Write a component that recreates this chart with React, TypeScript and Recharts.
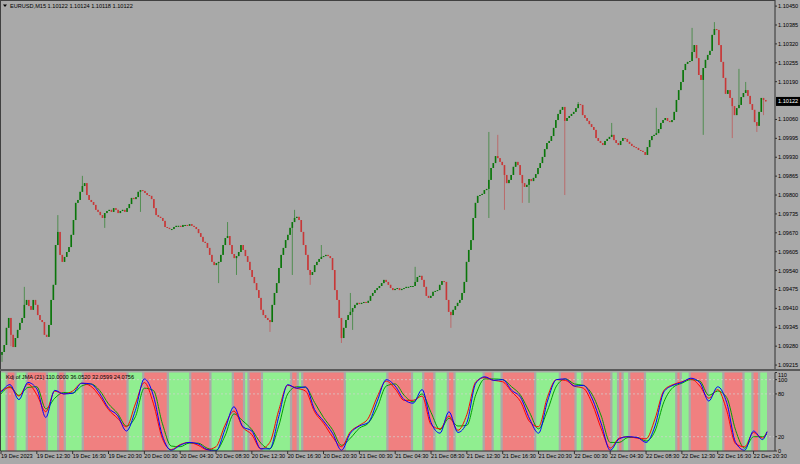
import React from "react";
import {
  Bar,
  ComposedChart,
  Line,
  ReferenceArea,
  ReferenceLine,
  XAxis,
  YAxis,
} from "recharts";

const FONT = "'Liberation Sans', Arial, sans-serif";
const BG = "#a9a9a9";
const BULL = "#0a760a";
const BEAR = "#c83838";

// EURUSD M15 closes, one per bar, from 19 Dec 08:30
const closes = [
  1.0926, 1.09284, 1.09343, 1.09377, 1.09319, 1.09277, 1.09308, 1.09336, 1.0936, 1.09377,
  1.09422, 1.09439, 1.09418, 1.09405, 1.09439, 1.09422, 1.09387, 1.0937, 1.09363, 1.09319,
  1.09312, 1.09353, 1.09439, 1.09491, 1.09628, 1.09673, 1.09594, 1.0957, 1.09587, 1.09604,
  1.09621, 1.09663, 1.09714, 1.09773, 1.09783, 1.09811, 1.09831, 1.09841, 1.098, 1.09783,
  1.09776, 1.09766, 1.09749, 1.09742, 1.09731, 1.09721, 1.09738, 1.09745, 1.09749, 1.09742,
  1.09755, 1.09749, 1.09738, 1.09745, 1.09749, 1.09742, 1.09755, 1.09769, 1.0979, 1.09786,
  1.09793, 1.09811, 1.09817, 1.09814, 1.09807, 1.098, 1.09797, 1.09786, 1.09755, 1.09731,
  1.09725, 1.09721, 1.09711, 1.0969, 1.09687, 1.09683, 1.09683, 1.0969, 1.09694, 1.09694,
  1.0969, 1.09697, 1.09697, 1.09694, 1.097, 1.09694, 1.0969, 1.09683, 1.09669, 1.09656,
  1.09639, 1.09635, 1.09618, 1.09594, 1.0957, 1.09559, 1.09566, 1.0957, 1.09594, 1.09628,
  1.09652, 1.09659, 1.09628, 1.09597, 1.09583, 1.0959, 1.09604, 1.09628, 1.09611, 1.0959,
  1.0957, 1.09542, 1.09518, 1.09497, 1.09473, 1.09446, 1.09405, 1.09387, 1.09377, 1.0937,
  1.09363, 1.09422, 1.09463, 1.09497, 1.09549, 1.09594, 1.09618, 1.09645, 1.09663, 1.09687,
  1.09707, 1.09721, 1.09725, 1.09714, 1.09673, 1.09628, 1.09594, 1.09542, 1.09525, 1.09535,
  1.09559, 1.0957, 1.0958, 1.09587, 1.0959, 1.09594, 1.0959, 1.09583, 1.09542, 1.09473,
  1.09439, 1.09377, 1.09308, 1.09343, 1.0937, 1.09387, 1.09398, 1.09411, 1.09422, 1.09429,
  1.09425, 1.09429, 1.09432, 1.09429, 1.09436, 1.09453, 1.09463, 1.09473, 1.0948, 1.09487,
  1.09497, 1.09508, 1.09501, 1.09491, 1.0948, 1.09473, 1.09477, 1.0948, 1.09473, 1.09477,
  1.0948, 1.09484, 1.09484, 1.09487, 1.09487, 1.09501, 1.09518, 1.09522, 1.09508, 1.09484,
  1.09453, 1.09446, 1.09453, 1.09467, 1.0947, 1.09473, 1.09491, 1.09504, 1.09501, 1.09439,
  1.09398, 1.09387, 1.09405, 1.09418, 1.09429, 1.09439, 1.09463, 1.09501, 1.0957, 1.09611,
  1.09645, 1.09721, 1.09773, 1.09797, 1.098, 1.09804, 1.09817, 1.09821, 1.09852, 1.09893,
  1.0991, 1.09934, 1.09927, 1.09914, 1.09903, 1.09869, 1.09841, 1.09852, 1.09869, 1.09897,
  1.09914, 1.09903, 1.09869, 1.09841, 1.09828, 1.09835, 1.09855, 1.09848, 1.09859, 1.09872,
  1.09893, 1.0991, 1.09931, 1.09958, 1.09979, 1.09986, 1.10003, 1.10031, 1.10058, 1.10079,
  1.10093, 1.10103, 1.10055, 1.10065, 1.10072, 1.10079, 1.10086, 1.10099, 1.10113, 1.1011,
  1.10075, 1.10065, 1.10055, 1.10044, 1.10034, 1.10024, 1.09996, 1.09986, 1.09979, 1.09972,
  1.09986, 1.09993, 1.1, 1.10007, 1.09989, 1.09979, 1.09972, 1.09986, 1.09996, 1.09993,
  1.09983, 1.09976, 1.09969, 1.09965, 1.09962, 1.09955, 1.09952, 1.09948, 1.09938, 1.09965,
  1.09989, 1.10003, 1.10007, 1.10013, 1.10027, 1.10048, 1.10058, 1.10065, 1.10055, 1.10051,
  1.10058, 1.10086, 1.10127, 1.10161, 1.10189, 1.1023, 1.10251, 1.10258, 1.10261, 1.10292,
  1.10316, 1.10271, 1.10213, 1.10196, 1.10237, 1.10265, 1.10282, 1.10296, 1.10351, 1.10371,
  1.10368, 1.10316, 1.10258, 1.10203, 1.10148, 1.10161, 1.10134, 1.10106, 1.10075, 1.10099,
  1.1011, 1.10137, 1.10151, 1.10161, 1.10141, 1.10113, 1.10093, 1.10051, 1.10038, 1.10086,
  1.10134, 1.10127, 1.10122,
];
const firstOpen = 1.0925;

// bars whose wicks reach well past the body: [bar, price]
const wickHighs: [number, number][] = [
  [10, 1.09484], [25, 1.09731], [36, 1.09866], [101, 1.09707], [131, 1.09749],
  [143, 1.09628], [156, 1.09463], [185, 1.09553], [218, 1.10017], [222, 1.10007],
  [258, 1.1012], [273, 1.10048], [293, 1.101], [309, 1.10375], [319, 1.10395],
  [330, 1.10234], [333, 1.10189],
];
const wickLows: [number, number][] = [
  [0, 1.09226], [4, 1.0928], [46, 1.09687], [62, 1.09742], [97, 1.09497],
  [105, 1.09525], [120, 1.09329], [130, 1.09525], [138, 1.09491], [152, 1.09291],
  [157, 1.09336], [201, 1.09343], [218, 1.09721], [225, 1.09749], [233, 1.09773],
  [236, 1.09773], [252, 1.098], [314, 1.10007], [327, 1.09996], [338, 1.10017],
  [341, 1.10075],
];

const priceTicks = [
  1.1045, 1.10385, 1.1032, 1.10255, 1.1019, 1.1006, 1.09995, 1.0993, 1.09865, 1.098,
  1.09735, 1.0967, 1.09605, 1.0954, 1.09475, 1.0941, 1.09345, 1.0928, 1.09215,
];
const kdjTicks = [0, 20, 80, 100, 110];

const timeLabels = [
  "19 Dec 2023", "19 Dec 12:30", "19 Dec 16:30", "19 Dec 20:30", "20 Dec 00:30",
  "20 Dec 04:30", "20 Dec 08:30", "20 Dec 12:30", "20 Dec 16:30", "20 Dec 20:30",
  "21 Dec 00:30", "21 Dec 04:30", "21 Dec 08:30", "21 Dec 12:30", "21 Dec 16:30",
  "21 Dec 20:30", "22 Dec 00:30", "22 Dec 04:30", "22 Dec 08:30", "22 Dec 12:30",
  "22 Dec 16:30", "22 Dec 20:30",
];
const BARS_PER_LABEL = 16;

// Kdj of JMA lines, read every 4th bar (last one at the final bar)
const KDJ_STEP = 4;
const kLine = [
  82, 93, 72, 96, 87, 47, 85, 80, 81, 95, 94, 81, 60, 50, 28, 57, 101, 78, 22, 1,
  8, 12, 10, 2, 0, 30, 62, 34, 28, 3, 3, 48, 93, 88, 90, 58, 42, 25, 1, 25,
  35, 40, 70, 100, 91, 72, 67, 86, 40, 25, 55, 26, 40, 95, 104, 99, 100, 85, 75, 45,
  25, 70, 100, 101, 91, 92, 73, 38, 1, 17, 20, 19, 12, 35, 83, 92, 96, 102, 96, 70,
  90, 68, 12, 1, 28, 16, 27,
];
const dLine = [
  84, 89, 77, 94, 79, 55, 84, 80, 84, 95, 91, 77, 58, 46, 34, 66, 96, 67, 18, 2,
  9, 12, 8, 2, 6, 36, 56, 33, 23, 3, 12, 57, 92, 88, 84, 55, 39, 20, 6, 27,
  36, 46, 76, 98, 87, 71, 71, 77, 37, 31, 49, 29, 51, 97, 103, 99, 97, 83, 69, 41,
  34, 76, 100, 99, 91, 88, 66, 31, 4, 18, 20, 18, 17, 45, 85, 93, 97, 101, 91, 74,
  86, 57, 10, 6, 26, 18, 27,
];
const jLine = [
  80, 90, 78, 89, 90, 59, 74, 82, 81, 91, 94, 85, 66, 53, 35, 48, 88, 85, 39, 7,
  6, 11, 11, 4, 1, 21, 52, 42, 30, 11, 3, 35, 80, 90, 89, 68, 47, 30, 8, 18,
  32, 39, 61, 91, 94, 78, 69, 80, 54, 30, 46, 35, 36, 79, 101, 101, 100, 90, 78, 54,
  31, 57, 91, 101, 94, 92, 79, 49, 12, 12, 19, 19, 14, 28, 69, 89, 95, 100, 98, 78,
  84, 75, 29, 4, 20, 20, 24,
];

// background colour runs of the indicator: [g = rising, r = falling, bars]
const bandRuns: [string, number][] = [
  ["g", 3], ["r", 4], ["g", 5], ["r", 9], ["g", 5], ["r", 3], ["g", 8], ["r", 20],
  ["g", 7], ["r", 11], ["g", 10], ["r", 9], ["g", 10], ["r", 5], ["g", 2], ["r", 6],
  ["g", 13], ["r", 3], ["g", 2], ["r", 19], ["g", 19], ["r", 11], ["g", 5], ["r", 5],
  ["g", 6], ["r", 3], ["g", 13], ["r", 4], ["g", 4], ["r", 15], ["g", 11], ["r", 7],
  ["g", 3], ["r", 13], ["g", 3], ["r", 2], ["g", 3], ["r", 7], ["g", 14], ["r", 2],
  ["g", 4], ["r", 8], ["g", 7], ["r", 9], ["g", 4], ["r", 3], ["g", 4],
];

const rows = closes.map((close, i) => {
  const open = i === 0 ? firstOpen : closes[i - 1];
  const hi = wickHighs.find(([j]) => j === i);
  const lo = wickLows.find(([j]) => j === i);
  const high = Math.max(open, close, hi ? hi[1] : 0);
  const low = Math.min(open, close, lo ? lo[1] : Infinity);
  const s =
    i % KDJ_STEP === 0 ? i / KDJ_STEP : i === closes.length - 1 ? kLine.length - 1 : -1;
  return {
    i,
    open,
    close,
    range: [low, high],
    k: s >= 0 ? kLine[s] : null,
    d: s >= 0 ? dLine[s] : null,
    j: s >= 0 ? jLine[s] : null,
  };
});

const bands = bandRuns.map(([c, n], idx) => {
  const start = bandRuns.slice(0, idx).reduce((a, r) => a + r[1], 0);
  return { start, end: start + n - 1, fill: c === "g" ? "#90ee90" : "#f08080" };
});

const timeTicks = timeLabels.map((_, n) => n * BARS_PER_LABEL);
const lastClose = closes[closes.length - 1];

const Candle = (props: any) => {
  const { x, y, width, height, payload } = props;
  const [low, high] = payload.range;
  const top = Math.min(y, y + height);
  const h = Math.abs(height);
  const at = (p: number) => (high === low ? top : top + ((high - p) / (high - low)) * h);
  const cx = x + width / 2;
  const color = payload.close >= payload.open ? BULL : BEAR;
  const bTop = at(Math.max(payload.open, payload.close));
  const bBot = at(Math.min(payload.open, payload.close));
  const bw = 1.6;
  return (
    <g>
      <line x1={cx} x2={cx} y1={top} y2={top + Math.max(h, 1)} stroke={color} strokeOpacity={0.55} strokeWidth={1} />
      <rect x={cx - bw / 2} y={bTop} width={bw} height={Math.max(bBot - bTop, 1)} fill={color} />
    </g>
  );
};

const PriceLabel = (props: any) => {
  const { x, y, width } = props.viewBox;
  return (
    <g>
      <rect x={x + width + 1} y={y - 4.5} width={24} height={9} fill="#000" />
      <text x={x + width + 3} y={y + 2} fontSize={5.6} fontFamily={FONT} fill="#fff">
        {lastClose.toFixed(5)}
      </text>
    </g>
  );
};

const TimeTick = ({ x, y, payload }: any) => (
  <text x={x} y={y + 3} fontSize={5.6} fontFamily={FONT} fill="#000" textAnchor="start">
    {timeLabels[payload.value / BARS_PER_LABEL]}
  </text>
);

// the top level label is pushed down inside the panel, as the terminal does
const KdjTick = ({ x, y, payload }: any) => (
  <text x={x} y={Math.max(y, 3.6)} dy="0.355em" fontSize={5.6} fontFamily={FONT} fill="#000" textAnchor="start">
    {payload.value}
  </text>
);

const axisTick = { fontSize: 5.6, fill: "#000", fontFamily: FONT };

const MainChart = () => (
  <ComposedChart width={800} height={371} data={rows} margin={{ top: 0, right: 0, bottom: 1, left: 1 }} barCategoryGap={0} barGap={0}>
    <XAxis dataKey="i" hide padding={{ left: 0, right: 8 }} />
    <YAxis
      orientation="right"
      width={25}
      domain={[1.09198, 1.10471]}
      allowDataOverflow
      ticks={priceTicks}
      interval={0}
      tickFormatter={(v: number) => v.toFixed(5)}
      tick={axisTick}
      tickSize={2}
      tickMargin={1}
      axisLine={{ stroke: "#303030" }}
      tickLine={{ stroke: "#303030" }}
    />
    <Bar dataKey="range" shape={(p: any) => <Candle {...p} />} isAnimationActive={false} />
    <ReferenceLine y={lastClose} stroke="none" ifOverflow="visible" label={(p: any) => <PriceLabel {...p} />} />
  </ComposedChart>
);

const IndicatorChart = () => (
  <ComposedChart width={800} height={93} data={rows} margin={{ top: 1.5, right: 0, bottom: 0, left: 1 }}>
    <XAxis
      dataKey="i"
      padding={{ left: 0, right: 8 }}
      ticks={timeTicks}
      interval={0}
      height={13}
      tick={<TimeTick />}
      tickSize={3}
      tickMargin={1}
      axisLine={{ stroke: "#303030" }}
      tickLine={{ stroke: "#303030" }}
    />
    <YAxis
      orientation="right"
      width={25}
      domain={[0, 110]}
      allowDataOverflow
      ticks={kdjTicks}
      interval={0}
      tick={<KdjTick />}
      tickSize={2}
      tickMargin={1}
      axisLine={{ stroke: "#303030" }}
      tickLine={{ stroke: "#303030" }}
    />
    {bands.map((b) => (
      <ReferenceArea key={b.start} x1={b.start} x2={b.end} y1={0} y2={110} fill={b.fill} fillOpacity={1} stroke="none" />
    ))}
    {[100, 80, 20].map((v) => (
      <ReferenceLine key={v} y={v} stroke="#d4d4d4" strokeDasharray="2 2" strokeWidth={0.7} />
    ))}
    <Line dataKey="j" type="monotone" stroke="#00a000" strokeWidth={1} dot={false} connectNulls isAnimationActive={false} />
    <Line dataKey="d" type="monotone" stroke="#ff0000" strokeWidth={1} dot={false} connectNulls isAnimationActive={false} />
    <Line dataKey="k" type="monotone" stroke="#0000ff" strokeWidth={1} dot={false} connectNulls isAnimationActive={false} />
  </ComposedChart>
);

export default function App() {
  return (
    <div style={{ position: "absolute", left: 0, top: 0, width: 800, height: 464, background: BG, overflow: "hidden" }}>
      <div style={{ position: "absolute", left: 0, top: 0 }}>
        <MainChart />
      </div>
      <div style={{ position: "absolute", left: 0, top: 371 }}>
        <IndicatorChart />
      </div>
      <svg width={800} height={464} style={{ position: "absolute", left: 0, top: 0, pointerEvents: "none" }}>
        <line x1={0.5} x2={0.5} y1={0} y2={451} stroke="#404040" />
        <line x1={0} x2={775} y1={0.5} y2={0.5} stroke="#404040" />
        <line x1={0} x2={800} y1={370} y2={370} stroke="#5a5a5a" strokeWidth={2} />
        <path d="M3 4.5 L7 4.5 L5 7 Z" fill="#000" />
        <text x={10} y={7.5} fontSize={5.6} fontFamily={FONT} fill="#000">
          EURUSD,M15  1.10122 1.10124 1.10118 1.10122
        </text>
        <text x={6} y={378.5} fontSize={5.6} fontFamily={FONT} fill="#000">
          Kdj of JMA (21) 110.0000 36.0520 32.0599 24.0756
        </text>
      </svg>
    </div>
  );
}
